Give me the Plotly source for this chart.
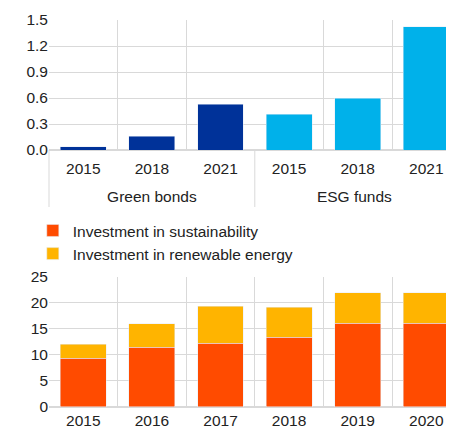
import plotly.graph_objects as go
from plotly.subplots import make_subplots

# top panel: green bonds vs ESG funds
years_top = ["2015", "2018", "2021"]
groups_top = ["Green bonds", "ESG funds"]
green_bonds = [0.04, 0.16, 0.53]
esg_funds = [0.41, 0.60, 1.42]

# bottom panel: investment stacks
years_bottom = ["2015", "2016", "2017", "2018", "2019", "2020"]
sustainability = [9.4, 11.5, 12.3, 13.4, 16.1, 16.1]
renewable = [2.7, 4.5, 7.1, 5.8, 5.9, 5.9]

FONT = "Arial, Liberation Sans, sans-serif"
GRID = "#d9d9d9"
FS = 15.5

# page body has an 8px margin, so the figure is a bit smaller than the window
W, H = 446, 422
L, T, B = 41, 12, 23
plot_w = W - L
cat_w = 68.6                     # width of one category in px
split = 3 * cat_w / plot_w       # paper x where the two groups meet

fig = make_subplots(rows=2, cols=2, specs=[[{}, {}], [{"colspan": 2}, None]],
                    horizontal_spacing=0, vertical_spacing=0)

fig.add_trace(go.Bar(x=years_top, y=green_bonds, marker_color="#003299",
                     showlegend=False), row=1, col=1)
fig.add_trace(go.Bar(x=years_top, y=esg_funds, marker_color="#00b1ea",
                     showlegend=False), row=1, col=2)

fig.add_trace(go.Bar(x=years_bottom, y=sustainability,
                     name="Investment in sustainability",
                     marker_color="#ff4b00"), row=2, col=1)
fig.add_trace(go.Bar(x=years_bottom, y=renewable,
                     name="Investment in renewable energy",
                     marker_color="#ffb400"), row=2, col=1)

top_dom = [0.664, 1.0]
bot_dom = [0.0, 0.336]

fig.update_layout(
    width=W, height=H,
    margin=dict(l=L, r=0, t=T, b=B),
    barmode="stack", bargap=0.33,
    plot_bgcolor="white", paper_bgcolor="white",
    font=dict(family=FONT, size=FS, color="#222"),
    legend=dict(x=-0.04, y=0.499, xanchor="left", yanchor="top",
                bgcolor="rgba(0,0,0,0)", font=dict(size=FS),
                traceorder="normal", tracegroupgap=0),
)

common_x = dict(type="category", tickson="boundaries", showgrid=True,
                gridcolor=GRID, ticks="", showline=False, zeroline=False)

fig.update_xaxes(common_x, domain=[0, split], range=[-0.5, 2.5],
                 ticklabelstandoff=7,
                 title=dict(text=groups_top[0], standoff=15,
                            font=dict(size=FS)),
                 row=1, col=1)
fig.update_xaxes(common_x, domain=[split, 1],
                 range=[-0.5, -0.5 + (plot_w - 3 * cat_w) / cat_w],
                 ticklabelstandoff=7,
                 title=dict(text=groups_top[1], standoff=15,
                            font=dict(size=FS)),
                 row=1, col=2)
fig.update_yaxes(range=[0, 1.5], dtick=0.3, tickformat=".1f", gridcolor=GRID,
                 showline=False, zeroline=True, zerolinecolor=GRID, ticks="",
                 domain=top_dom, row=1, col=1)
fig.update_yaxes(range=[0, 1.5], dtick=0.3, gridcolor=GRID, showline=False,
                 zeroline=True, zerolinecolor=GRID, showticklabels=False,
                 ticks="", domain=top_dom, row=1, col=2)

fig.update_xaxes(common_x, range=[-0.5, -0.5 + plot_w / cat_w],
                 ticklabelstandoff=2, row=2, col=1)
fig.update_yaxes(range=[0, 25], dtick=5, gridcolor=GRID, showline=False,
                 zeroline=True, zerolinecolor=GRID, ticks="",
                 domain=bot_dom, row=2, col=1)

# group dividers running down through the label area
plot_h = H - T - B
ext = 57 / plot_h
for xp in [0, split]:
    fig.add_shape(type="line", xref="paper", yref="paper",
                  x0=xp, x1=xp, y0=top_dom[0] - ext, y1=top_dom[0],
                  line=dict(color=GRID, width=1))

fig.write_html("out.html")
